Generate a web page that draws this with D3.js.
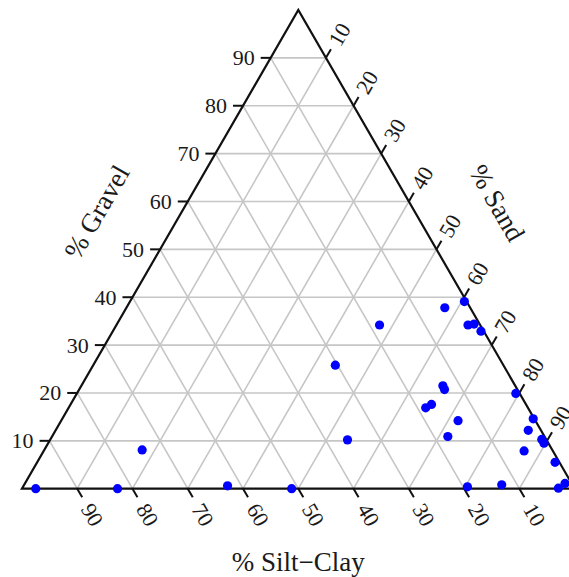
<!DOCTYPE html>
<html>
<head>
<meta charset="utf-8">
<script src="https://cdn.jsdelivr.net/npm/d3@7"></script>
<style>
  html, body { margin: 0; padding: 0; background: #fff; }
  svg { display: block; }
  text { font-family: "Liberation Serif", "DejaVu Serif", serif; fill: #1a1a1a; }
</style>
</head>
<body>
<svg id="chart" width="569" height="577"></svg>
<script>
// Sediment composition of each sample (percent)
const gravel   = [0, 0, 8.1, 0.6, 0, 10.2, 25.8, 34.2, 37.8, 39.1, 34.2, 34.4, 32.9, 21.5, 20.7, 16.9, 17.6, 14.2, 10.9, 19.9, 14.6, 12.2, 10.3, 9.5, 7.9, 5.5, 0.4, 0.8, 0.1, 1.1];
const sand     = [2.5, 17.3, 17.7, 36.9, 48.8, 53.8, 43.8, 47.6, 57.6, 60.5, 63.6, 64.6, 66.6, 65.4, 66.1, 64.6, 65.3, 71.8, 71.6, 79.4, 85.2, 85.5, 88.9, 89.7, 86.9, 93.7, 80.4, 86.4, 97.0, 97.7];
const siltClay = [97.5, 82.7, 74.2, 62.5, 51.2, 36.0, 30.4, 18.2, 4.6, 0.4, 2.2, 1.0, 0.5, 13.1, 13.2, 18.5, 17.1, 14.0, 17.5, 0.7, 0.2, 2.3, 0.8, 0.8, 5.2, 0.8, 19.2, 12.8, 2.9, 1.2];

const tickValues = [10, 20, 30, 40, 50, 60, 70, 80, 90];
const axisTitles = { gravel: "% Gravel", sand: "% Sand", siltClay: "% Silt\u2212Clay" };

// Triangle geometry: Silt-Clay vertex bottom-left, Sand bottom-right, Gravel on top
const yBase = 488.7, yTop = 10;
const height = yBase - yTop;
const side = height / Math.sin(Math.PI / 3);
const xApex = 298.3;
const xLeft = xApex - side / 2, xRight = xApex + side / 2;

// Horizontal position uses sand + gravel/2; vertical uses gravel
const xs = d3.scaleLinear().domain([0, 100]).range([xLeft, xRight]);
const ys = d3.scaleLinear().domain([0, 100]).range([yBase, yTop]);
const pt = (g, s) => [xs(s + g / 2), ys(g)];

const svg = d3.select("#chart");

// Grid lines for all three components
const gridData = [];
tickValues.forEach(v => {
  gridData.push([pt(v, 0), pt(v, 100 - v)]);          // constant gravel
  gridData.push([pt(0, v), pt(100 - v, v)]);          // constant sand
  gridData.push([pt(0, 100 - v), pt(100 - v, 0)]);    // constant silt-clay
});
svg.append("g")
  .selectAll("line").data(gridData).join("line")
  .attr("x1", d => d[0][0]).attr("y1", d => d[0][1])
  .attr("x2", d => d[1][0]).attr("y2", d => d[1][1])
  .attr("stroke", "#c6c6c6").attr("stroke-width", 1.6);

// Triangle outline
const corners = [pt(0, 0), pt(0, 100), pt(100, 0)];
svg.append("path")
  .attr("d", d3.line()(corners) + "Z")
  .attr("fill", "none").attr("stroke", "#111").attr("stroke-width", 2.2)
  .attr("stroke-linejoin", "miter");

const tickLen = 10, gap = 6;
const cos60 = Math.cos(Math.PI / 3), sin60 = Math.sin(Math.PI / 3);

// Gravel axis (left edge): ticks point left, labels horizontal
const gAxis = svg.append("g");
tickValues.forEach(v => {
  const [x, y] = pt(v, 0);
  gAxis.append("line").attr("x1", x).attr("y1", y).attr("x2", x - tickLen).attr("y2", y)
    .attr("stroke", "#111").attr("stroke-width", 2);
  gAxis.append("text").attr("x", x - tickLen - gap).attr("y", y)
    .attr("text-anchor", "end").attr("dominant-baseline", "central")
    .attr("font-size", 22).text(v);
});

// Sand axis (right edge): ticks along constant-sand lines, labels rotated up
const sAxis = svg.append("g");
tickValues.forEach(v => {
  const [x, y] = pt(100 - v, v);
  const x2 = x + tickLen * cos60, y2 = y - tickLen * sin60;
  sAxis.append("line").attr("x1", x).attr("y1", y).attr("x2", x2).attr("y2", y2)
    .attr("stroke", "#111").attr("stroke-width", 2);
  const lx = x2 + gap * cos60, ly = y2 - gap * sin60;
  sAxis.append("text")
    .attr("transform", `translate(${lx},${ly}) rotate(-60)`)
    .attr("text-anchor", "start").attr("dominant-baseline", "central")
    .attr("font-size", 22).text(v);
});

// Silt-Clay axis (bottom edge): ticks along constant silt-clay lines, labels rotated down
const cAxis = svg.append("g");
const cGap = 9;
tickValues.forEach(v => {
  const [x, y] = pt(0, 100 - v);
  const x2 = x + tickLen * cos60, y2 = y + tickLen * sin60;
  cAxis.append("line").attr("x1", x).attr("y1", y).attr("x2", x2).attr("y2", y2)
    .attr("stroke", "#111").attr("stroke-width", 2);
  const lx = x2 + cGap * cos60, ly = y2 + cGap * sin60;
  cAxis.append("text")
    .attr("transform", `translate(${lx},${ly}) rotate(60)`)
    .attr("text-anchor", "start").attr("dominant-baseline", "central")
    .attr("font-size", 22).text(v);
});

// Axis titles
svg.append("text").attr("transform", "translate(97,212) rotate(-60)")
  .attr("text-anchor", "middle").attr("dominant-baseline", "central")
  .attr("font-size", 27).text(axisTitles.gravel);
svg.append("text").attr("transform", "translate(497,203) rotate(60)")
  .attr("text-anchor", "middle").attr("dominant-baseline", "central")
  .attr("font-size", 27).text(axisTitles.sand);
svg.append("text").attr("x", xApex).attr("y", 571)
  .attr("text-anchor", "middle")
  .attr("font-size", 27).text(axisTitles.siltClay);

// Samples
const samples = gravel.map((g, i) => {
  const total = g + sand[i] + siltClay[i];
  return { g: 100 * g / total, s: 100 * sand[i] / total };
});
svg.append("g")
  .selectAll("circle").data(samples).join("circle")
  .attr("cx", d => pt(d.g, d.s)[0])
  .attr("cy", d => pt(d.g, d.s)[1])
  .attr("r", 4.6)
  .attr("fill", "#0000ff");
</script>
</body>
</html>
